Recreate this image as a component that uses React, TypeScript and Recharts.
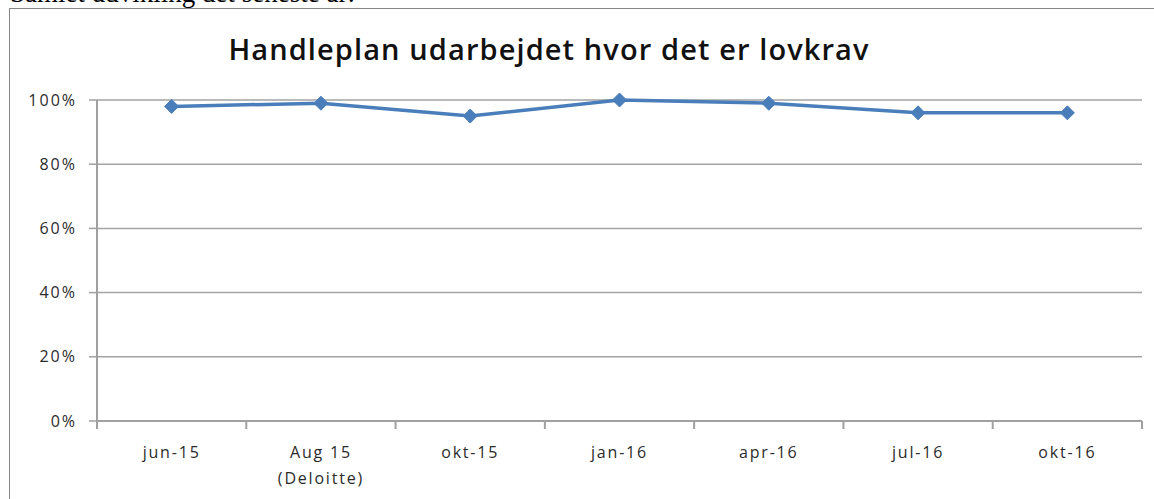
import { CartesianGrid, Line, LineChart, XAxis, YAxis } from "recharts";

const categories = ["jun-15", "Aug 15\n(Deloitte)", "okt-15", "jan-16", "apr-16", "jul-16", "okt-16"];
const values = [98, 99, 95, 100, 99, 96, 96];
const yTicks = [0, 20, 40, 60, 80, 100];

const data = categories.map((c, i) => ({ name: c, v: values[i] }));

const W = 1154;
const H = 499;
const margin = { top: 100, right: 12, left: 37, bottom: 28 };
const Y_W = 60;
const plotW = W - margin.left - margin.right - Y_W;
const halfBand = plotW / categories.length / 2;
const FONT = "'Open Sans', sans-serif";

function Diamond(props: any) {
  const { cx, cy } = props;
  if (cx == null || cy == null) return null;
  const r = 7;
  return (
    <path
      d={`M${cx},${cy - r} L${cx + r},${cy} L${cx},${cy + r} L${cx - r},${cy} Z`}
      fill="#4a7ebb"
      stroke="#4a7ebb"
      strokeWidth={1}
    />
  );
}

function XTick(props: any) {
  const { x, y, payload, index } = props;
  const lines = String(payload.value).split("\n");
  const last = index === categories.length - 1;
  return (
    <g>
      <line x1={x - halfBand} x2={x - halfBand} y1={y - 8} y2={y} stroke="#a0a0a0" strokeWidth={2} />
      {last && <line x1={x + halfBand} x2={x + halfBand} y1={y - 8} y2={y} stroke="#a0a0a0" strokeWidth={2} />}
      <text
        x={x}
        y={y + 29}
        textAnchor="middle"
        fill="#2b2b2b"
        fontSize={16}
        letterSpacing={1.8}
        fontFamily={FONT}
      >
        {lines.map((l, i) => (
          <tspan key={i} x={x} dy={i === 0 ? 0 : 26}>
            {l}
          </tspan>
        ))}
      </text>
    </g>
  );
}

export default function App() {
  return (
    <div style={{ position: "absolute", left: 0, top: 0, width: W, height: H, overflow: "hidden", background: "#fff" }}>
      <div
        style={{
          position: "absolute",
          left: 10,
          top: -22,
          fontFamily: "'Liberation Serif', serif",
          fontSize: 27,
          lineHeight: "30px",
          color: "#000",
          whiteSpace: "nowrap",
        }}
      >
        Samlet udvikling det seneste år:
      </div>
      <div
        style={{
          position: "absolute",
          left: 9,
          top: 8,
          width: W + 20,
          height: H + 20,
          border: "1.5px solid #868686",
        }}
      />
      <div
        style={{
          position: "absolute",
          left: 0,
          top: 30,
          width: 1098,
          textAlign: "center",
          fontFamily: FONT,
          fontWeight: 600,
          fontSize: 29,
          letterSpacing: 1.1,
          lineHeight: "38px",
          color: "#111",
        }}
      >
        Handleplan udarbejdet hvor det er lovkrav
      </div>
      <div style={{ position: "absolute", left: 0, top: 0 }}>
        <LineChart width={W} height={H} data={data} margin={margin}>
          <CartesianGrid vertical={false} stroke="#a3a3a3" strokeWidth={1.5} />
          <XAxis
            dataKey="name"
            scale="band"
            interval={0}
            axisLine={{ stroke: "#a0a0a0", strokeWidth: 2 }}
            tickLine={false}
            tick={<XTick />}
            height={50}
          />
          <YAxis
            domain={[0, 100]}
            ticks={yTicks}
            width={Y_W}
            tickFormatter={(v) => `${v}%`}
            axisLine={{ stroke: "#a0a0a0", strokeWidth: 2 }}
            tickLine={{ stroke: "#a0a0a0", strokeWidth: 1.5 }}
            tickSize={8}
            tickMargin={12}
            tick={{ fill: "#2b2b2b", fontSize: 16, fontFamily: FONT, letterSpacing: 2 }}
          />
          <Line
            type="linear"
            dataKey="v"
            stroke="#4a7ebb"
            strokeWidth={3.5}
            dot={<Diamond />}
            activeDot={false}
            isAnimationActive={false}
          />
        </LineChart>
      </div>
    </div>
  );
}
